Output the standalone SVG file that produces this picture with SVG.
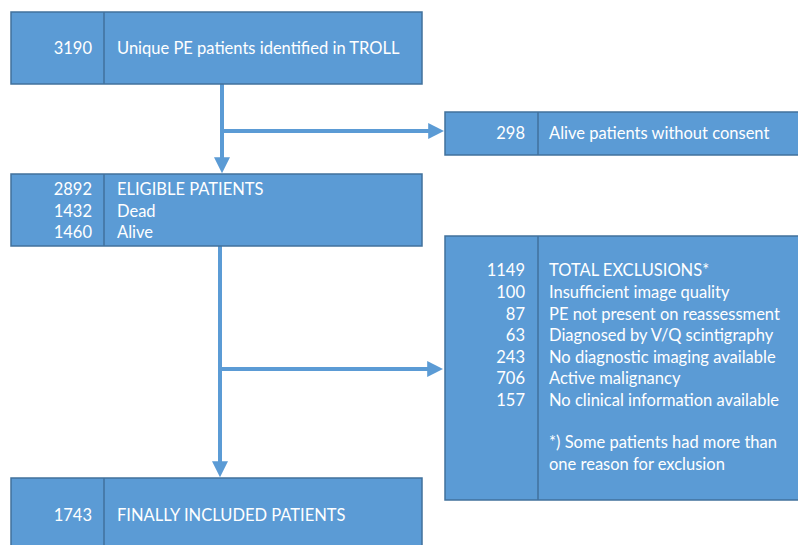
<svg xmlns="http://www.w3.org/2000/svg" width="798" height="545" viewBox="0 0 798 545">
<defs>
<style>
.box{fill:#5B9BD5;stroke:#41719C;stroke-width:1.5}
.div{stroke:#41719C;stroke-width:1.5}
text{font-family:Lato,"Open Sans","Liberation Sans",sans-serif;font-size:16.5px;fill:#fff}
.n{text-anchor:end}
.c{stroke:#5B9BD5;stroke-width:4;fill:none}
</style>
<marker id="ah" markerWidth="4" markerHeight="4" refX="2.2" refY="2" orient="auto" markerUnits="strokeWidth" viewBox="0 0 4 4">
<path d="M0,0 L4,2 L0,4 Z" fill="#5B9BD5"/>
</marker>
</defs>
<rect width="798" height="545" fill="#fff"/>
<g id="connectors">
<path class="c" d="M222,84 V166" marker-end="url(#ah)"/>
<path class="c" d="M222,131 H437" marker-end="url(#ah)"/>
<path class="c" d="M220,246 V470" marker-end="url(#ah)"/>
<path class="c" d="M220,369 H436" marker-end="url(#ah)"/>
</g>
<g id="n1">
<rect class="box" x="11" y="12" width="411" height="72"/>
<line class="div" x1="104" y1="12" x2="104" y2="84"/>
<text class="n" x="92" y="54">3190</text>
<text x="117" y="54">Unique PE patients identified in TROLL</text>
</g>
<g id="n2">
<rect class="box" x="445" y="112" width="360" height="43"/>
<line class="div" x1="538" y1="112" x2="538" y2="155"/>
<text class="n" x="525" y="139">298</text>
<text x="549" y="139">Alive patients without consent</text>
</g>
<g id="n3">
<rect class="box" x="11" y="174" width="411" height="72"/>
<line class="div" x1="104" y1="174" x2="104" y2="246"/>
<text class="n" x="92" y="195">2892</text>
<text x="117" y="195">ELIGIBLE PATIENTS</text>
<text class="n" x="92" y="217">1432</text>
<text x="117" y="217">Dead</text>
<text class="n" x="92" y="238">1460</text>
<text x="117" y="238">Alive</text>
</g>
<g id="n4">
<rect class="box" x="445" y="236" width="360" height="264"/>
<line class="div" x1="538" y1="236" x2="538" y2="500"/>
<text class="n" x="525" y="276">1149</text>
<text x="549" y="276">TOTAL EXCLUSIONS*</text>
<text class="n" x="525" y="298">100</text>
<text x="549" y="298">Insufficient image quality</text>
<text class="n" x="525" y="320">87</text>
<text x="549" y="320">PE not present on reassessment</text>
<text class="n" x="525" y="341">63</text>
<text x="549" y="341">Diagnosed by V/Q scintigraphy</text>
<text class="n" x="525" y="363">243</text>
<text x="549" y="363">No diagnostic imaging available</text>
<text class="n" x="525" y="384">706</text>
<text x="549" y="384">Active malignancy</text>
<text class="n" x="525" y="406">157</text>
<text x="549" y="406">No clinical information available</text>
<text x="549" y="448">*) Some patients had more than</text>
<text x="549" y="470">one reason for exclusion</text>
</g>
<g id="n5">
<rect class="box" x="11" y="478" width="411" height="80"/>
<line class="div" x1="104" y1="478" x2="104" y2="558"/>
<text class="n" x="92" y="521">1743</text>
<text x="117" y="521">FINALLY INCLUDED PATIENTS</text>
</g>
</svg>
